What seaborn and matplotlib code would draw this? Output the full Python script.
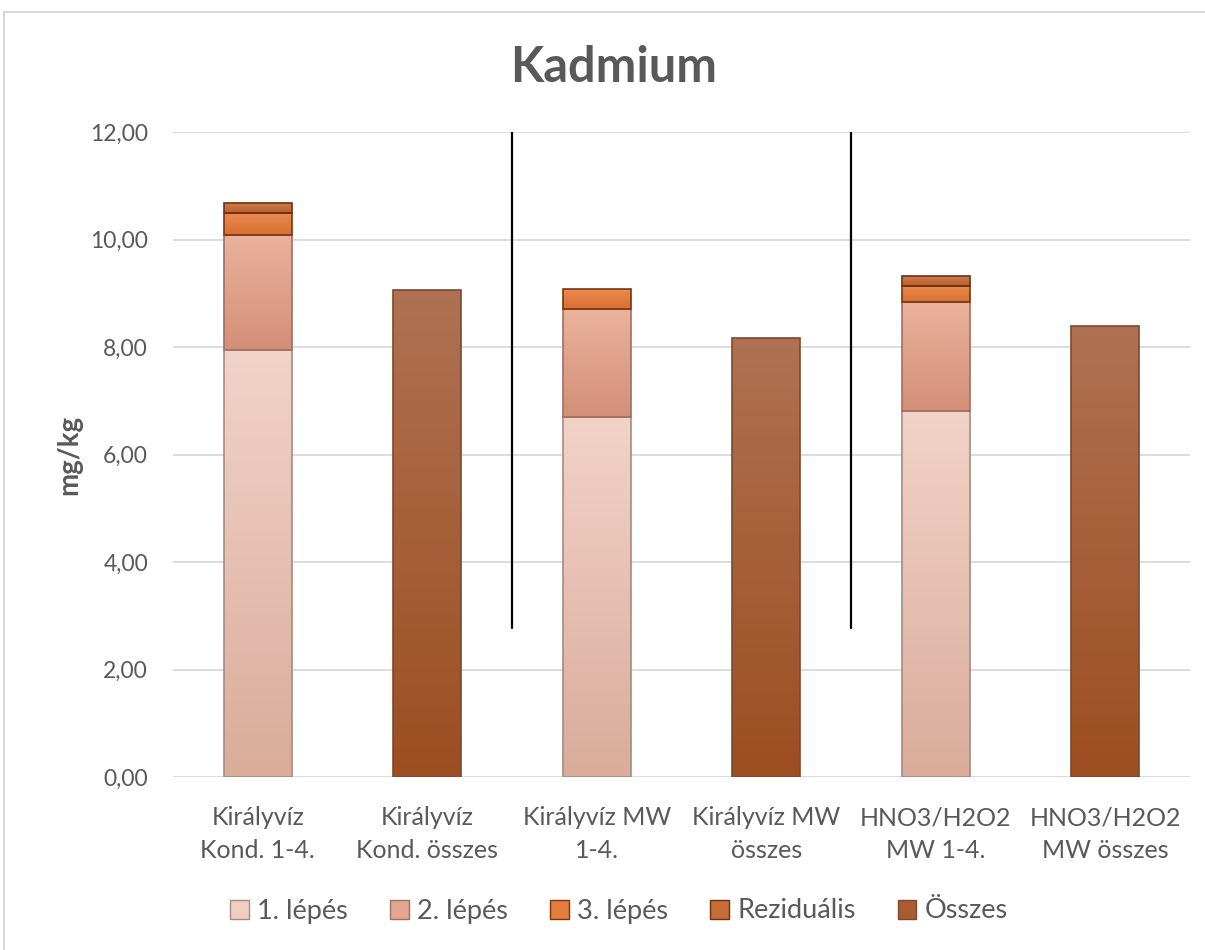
import numpy as np
import pandas as pd
import matplotlib
matplotlib.use("Agg")
import matplotlib.pyplot as plt
import seaborn as sns
from matplotlib.patches import Patch
from matplotlib.lines import Line2D
from matplotlib.colors import LinearSegmentedColormap

# ---- data ----
categories = ["Királyvíz\nKond. 1-4.", "Királyvíz\nKond. összes",
              "Királyvíz MW\n1-4.", "Királyvíz MW\nösszes",
              "HNO3/H2O2\nMW 1-4.", "HNO3/H2O2\nMW összes"]
step_cats = [categories[0], categories[2], categories[4]]
total_cats = [categories[1], categories[3], categories[5]]
lepes1 = [7.94, 6.70, 6.81]
lepes2 = [2.14, 2.00, 2.02]
lepes3 = [0.42, 0.37, 0.31]
rezidualis = [0.17, 0.00, 0.18]
osszes = [9.06, 8.17, 8.39]
series_names = ["1. lépés", "2. lépés", "3. lépés", "Reziduális", "Összes"]
yticks = [0, 2, 4, 6, 8, 10, 12]

# gradient colours (top, bottom) and edges
grad = {
    "1. lépés": ("#f2d3c8", "#d9ac9b"),
    "2. lépés": ("#eab29c", "#d38f78"),
    "3. lépés": ("#e98b50", "#d96f30"),
    "Reziduális": ("#cd7c4c", "#b9602c"),
    "Összes": ("#af7252", "#9d4e21"),
}
edges = {
    "1. lépés": "#a88a80",
    "2. lépés": "#a07060",
    "3. lépés": "#7a3510",
    "Reziduális": "#6e3010",
    "Összes": "#7a4a30",
}
legend_cols = {
    "1. lépés": "#efcfc3",
    "2. lépés": "#e4a68e",
    "3. lépés": "#e47e3e",
    "Reziduális": "#c66c36",
    "Összes": "#a85c30",
}

sns.set_theme(style="white")
FONT = ["Lato", "DejaVu Sans"]
plt.rcParams["font.family"] = FONT
TXT = "#595959"

fig = plt.figure(figsize=(12.05, 9.5), dpi=100)
ax = fig.add_axes([173 / 1205, 1 - 777 / 950, (1190 - 173) / 1205, (777 - 132) / 950])

bottoms = np.zeros(3)
stack = [("1. lépés", lepes1), ("2. lépés", lepes2), ("3. lépés", lepes3), ("Reziduális", rezidualis)]
all_patches = []
for name, vals in stack:
    df = pd.DataFrame({"cat": step_cats, "val": vals})
    before = len(ax.patches)
    sns.barplot(data=df, x="cat", y="val", order=categories, ax=ax, width=0.4,
                bottom=bottoms.copy(), color=grad[name][0], edgecolor=edges[name],
                linewidth=1.2, errorbar=None, zorder=3)
    for p, v in zip(ax.patches[before:], vals):
        if v > 0:
            all_patches.append((p, name))
        else:
            p.set_visible(False)
    bottoms = bottoms + np.array(vals)

df = pd.DataFrame({"cat": total_cats, "val": osszes})
before = len(ax.patches)
sns.barplot(data=df, x="cat", y="val", order=categories, ax=ax, width=0.4,
            color=grad["Összes"][0], edgecolor=edges["Összes"], linewidth=1.2,
            errorbar=None, zorder=3)
for p in ax.patches[before:]:
    all_patches.append((p, "Összes"))

ax.set_ylim(0, 12)
ax.set_xlim(-0.5, 5.5)

# gradient fills clipped to bars
grad_img = np.linspace(0, 1, 256).reshape(-1, 1)
for p, name in all_patches:
    cmap = LinearSegmentedColormap.from_list("g", [grad[name][0], grad[name][1]])
    x0, y0 = p.get_x(), p.get_y()
    w, h = p.get_width(), p.get_height()
    im = ax.imshow(grad_img, cmap=cmap, aspect="auto", extent=[x0, x0 + w, y0, y0 + h],
                   origin="upper", zorder=3.5, interpolation="bilinear")
    im.set_clip_path(p)
    p.set_facecolor("none")
    p.set_zorder(4)
ax.set_xlim(-0.5, 5.5)
ax.set_ylim(0, 12)

# separators
ax.plot([1.5, 1.5], [2.77, 12], color="black", lw=1.6, zorder=5)
ax.plot([3.5, 3.5], [2.77, 12], color="black", lw=1.6, zorder=5)

ax.set_yticks(yticks)
ax.set_yticklabels([f"{v:.2f}".replace(".", ",") for v in yticks])
ax.yaxis.grid(True, color="#d9d9d9", lw=1.3, zorder=0)
ax.set_axisbelow(True)
for s in ax.spines.values():
    s.set_visible(False)
ax.tick_params(axis="y", length=0, labelsize=16.5, colors=TXT, pad=18)
ax.tick_params(axis="x", length=0, labelsize=18, colors=TXT, pad=21)
for lbl in ax.get_xticklabels():
    lbl.set_linespacing(1.5)
ax.set_xlabel("")
ax.set_ylabel("")
fig.text(69 / 1205, 1 - 455 / 950, "mg/kg", rotation=90, ha="center", va="center",
         fontsize=20, fontweight="bold", color=TXT)

fig.text(0.509, 1 - 67 / 950, "Kadmium", ha="center", va="center",
         fontsize=35, fontweight="bold", color=TXT)

handles = [Patch(facecolor=legend_cols[n], edgecolor=edges[n], lw=1.0) for n in series_names]
leg = fig.legend(handles, series_names, loc="center", bbox_to_anchor=(619 / 1205, 1 - 911 / 950),
                 ncol=5, frameon=False, fontsize=19.5, handlelength=0.7, handleheight=0.7,
                 handletextpad=0.3, columnspacing=1.55)
for t in leg.get_texts():
    t.set_color(TXT)

# chart border (top & left visible)
fig.add_artist(Line2D([4 / 1205, 1], [1 - 12 / 950, 1 - 12 / 950], color="#d9d9d9", lw=1.5))
fig.add_artist(Line2D([4 / 1205, 4 / 1205], [0, 1 - 12 / 950], color="#d9d9d9", lw=1.5))

fig.savefig("out.png", dpi=100)
